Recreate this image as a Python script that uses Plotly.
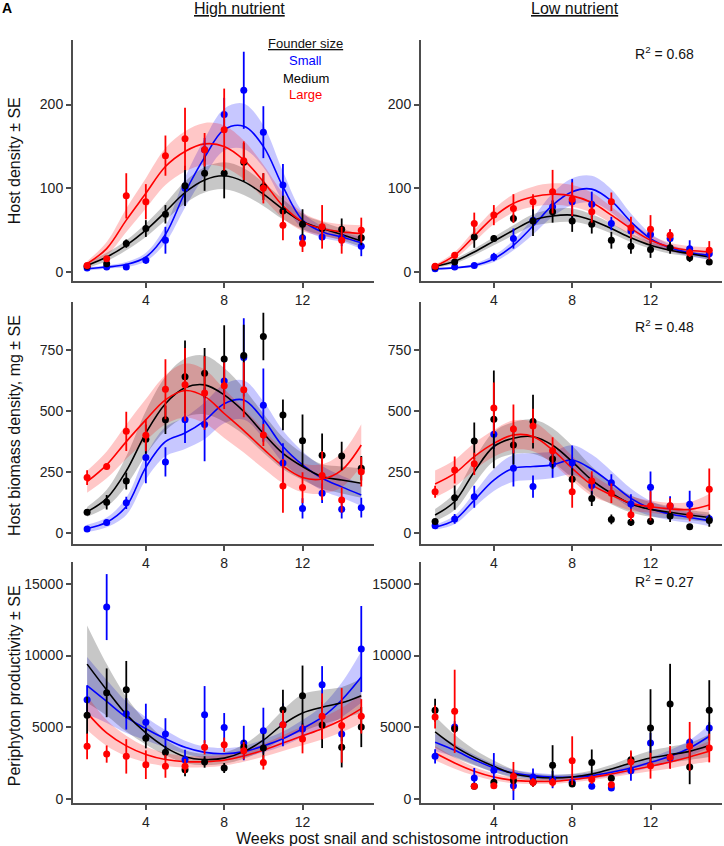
import plotly.graph_objects as go

weeks = list(range(1, 16))
sizes = ["Small", "Medium", "Large"]
colors = ["#0000ff", "#000000", "#ff0000"]
band_colors = ["rgba(0,0,255,0.22)", "rgba(0,0,0,0.22)", "rgba(255,0,0,0.22)"]

# ---- Host density, high nutrient (order: Small, Medium, Large)
hd_hi_pts = [[5, 6, 6, 14, 38, 100, 146, 188, 217, 167, 104, 41, 42, 41, 31],
             [7, 10, 34, 52, 69, 103, 118, 118, 131, 102, 73, 57, 52, 51, 41],
             [8, 16, 91, 84, 139, 159, 146, 170, 133, 100, 56, 34, 54, 38, 50]]
hd_hi_err = [[1, 2, 1, 4, 16, 20, 14, 20, 46, 31, 25, 4, 5, 10, 12],
             [2, 3, 5, 10, 11, 24, 21, 30, 23, 16, 18, 18, 6, 13, 9],
             [2, 3, 27, 21, 24, 37, 20, 49, 23, 18, 18, 10, 26, 16, 15]]
hd_hi_fit = [[4, 6, 9, 18, 45, 95, 137, 170, 174, 150, 102, 62, 48, 42, 35],
             [8, 18, 32, 50, 72, 95, 110, 115, 108, 93, 75, 60, 52, 45, 37],
             [10, 28, 62, 94, 126, 144, 153, 150, 134, 108, 79, 60, 52, 48, 46]]
hd_hi_band = [[2, 2, 3, 5, 10, 18, 22, 25, 27, 25, 18, 10, 7, 6, 7],
              [3, 5, 6, 8, 10, 13, 15, 16, 16, 14, 12, 9, 8, 7, 7],
              [3, 8, 14, 18, 22, 24, 25, 25, 23, 20, 15, 11, 9, 9, 10]]

# ---- Host density, low nutrient
hd_lo_pts = [[4, 6, 8, 18, 40, 62, 78, 84, 81, 58, 49, 45, 40, 28, 22],
             [6, 12, 42, 40, 64, 61, 72, 61, 57, 38, 31, 27, 29, 17, 12],
             [7, 20, 58, 68, 76, 84, 96, 87, 72, 84, 53, 51, 44, 23, 26]]
hd_lo_err = [[1, 1, 2, 5, 12, 12, 8, 27, 15, 8, 8, 8, 11, 10, 8],
             [2, 3, 13, 4, 5, 18, 13, 13, 11, 10, 9, 10, 7, 5, 3],
             [2, 4, 13, 12, 17, 9, 26, 20, 13, 11, 13, 17, 7, 5, 11]]
hd_lo_fit = [[4, 5, 8, 16, 32, 55, 80, 96, 99, 85, 60, 40, 29, 23, 20],
             [7, 13, 24, 37, 50, 62, 67, 68, 62, 52, 41, 32, 26, 22, 18],
             [7, 20, 43, 66, 82, 90, 93, 91, 83, 68, 52, 38, 30, 26, 24]]
hd_lo_band = [[1, 1, 2, 4, 6, 10, 14, 16, 16, 14, 10, 6, 4, 4, 5],
              [2, 3, 4, 5, 6, 7, 8, 8, 7, 6, 5, 4, 4, 3, 3],
              [2, 4, 7, 9, 11, 12, 13, 13, 12, 10, 8, 6, 5, 5, 6]]

# ---- Host biomass density, high nutrient
bm_hi_pts = [[18, 44, 125, 310, 292, 464, 445, 623, 719, 524, 288, 102, 164, 98, 105],
             [86, 127, 214, 385, 464, 640, 655, 713, 727, 805, 484, 379, 319, 316, 266],
             [228, 273, 417, 401, 589, 608, 574, 603, 587, 402, 194, 187, 236, 136, 252]]
bm_hi_err = [[8, 12, 25, 105, 60, 95, 150, 80, 160, 150, 80, 41, 40, 37, 40],
             [12, 30, 35, 60, 58, 148, 103, 138, 126, 97, 63, 107, 89, 58, 50],
             [30, 12, 80, 65, 123, 150, 150, 95, 112, 45, 110, 63, 100, 51, 60]]
bm_hi_fit = [[20, 45, 110, 270, 375, 410, 460, 530, 545, 465, 355, 280, 225, 190, 157],
             [88, 143, 255, 410, 530, 595, 607, 566, 498, 409, 327, 273, 232, 218, 205],
             [211, 280, 375, 464, 546, 584, 560, 490, 420, 345, 275, 228, 222, 258, 361]]
bm_hi_band = [[15, 20, 35, 50, 60, 65, 75, 80, 80, 75, 65, 55, 50, 45, 45],
              [20, 35, 60, 90, 110, 120, 120, 110, 95, 80, 65, 55, 50, 55, 60],
              [45, 55, 70, 85, 100, 110, 110, 100, 90, 80, 70, 60, 60, 70, 85]]

# ---- Host biomass density, low nutrient
bm_lo_pts = [[31, 59, 150, 405, 266, 191, 282, 289, 196, 207, 120, 188, 112, 119, 60],
             [48, 146, 378, 466, 361, 457, 304, 221, 142, 57, 45, 49, 71, 27, 52],
             [170, 259, 284, 512, 427, 439, 338, 170, 214, 164, 76, 112, 113, 74, 180]]
bm_lo_err = [[8, 20, 45, 60, 75, 45, 55, 70, 40, 35, 40, 65, 40, 55, 15],
             [10, 50, 75, 200, 80, 110, 40, 45, 30, 20, 15, 15, 25, 8, 25],
             [25, 55, 45, 105, 100, 70, 55, 65, 40, 40, 25, 60, 30, 25, 85]]
bm_lo_fit = [[25, 55, 136, 218, 266, 273, 280, 300, 262, 205, 143, 102, 79, 65, 52],
             [75, 130, 252, 355, 389, 395, 360, 293, 218, 164, 120, 98, 86, 75, 65],
             [202, 245, 314, 368, 402, 396, 341, 266, 198, 157, 123, 109, 100, 98, 116]]
bm_lo_band = [[10, 18, 30, 45, 55, 55, 55, 60, 60, 50, 40, 30, 25, 22, 22],
              [25, 35, 50, 60, 65, 70, 70, 65, 55, 45, 35, 30, 25, 20, 20],
              [55, 55, 55, 55, 60, 60, 55, 50, 45, 35, 30, 25, 25, 30, 45]]

# ---- Periphyton productivity, high nutrient
pp_hi_pts = [[6920, 13375, 5940, 5340, 4530, 2740, 5870, 4990, 3900, 4760, 5180, 4880, 7960, 4530, 10450],
             [5830, 7400, 7620, 4230, 3250, 2040, 2580, 2160, 3620, 3550, 6220, 7200, 5150, 3600, 5015],
             [3670, 3130, 2970, 2390, 2280, 2280, 3600, 3780, 3370, 2550, 5180, 4180, 5760, 5130, 5760]]
pp_hi_err = [[1000, 2300, 1100, 1300, 1100, 700, 2000, 1000, 1200, 1600, 1500, 400, 1300, 500, 3000],
             [1300, 1700, 2000, 700, 450, 450, 400, 350, 500, 1000, 1400, 2100, 1600, 1400, 1400],
             [900, 600, 1200, 1000, 800, 500, 500, 500, 600, 500, 1000, 1000, 1600, 2600, 1200]]
pp_hi_fit = [[7900, 6800, 5700, 4900, 4200, 3600, 3250, 3150, 3300, 3700, 4200, 4900, 5700, 6900, 8500],
             [9400, 7600, 5900, 4600, 3600, 2950, 2750, 2850, 3300, 4100, 5200, 6000, 6400, 6700, 7200],
             [6000, 4600, 3700, 3100, 2750, 2600, 2600, 2700, 3000, 3400, 3900, 4400, 4900, 5500, 6300]]
pp_hi_band = [[2000, 1500, 1100, 800, 600, 450, 400, 400, 400, 450, 500, 600, 800, 1200, 1800],
              [2700, 1800, 1200, 800, 550, 450, 400, 400, 500, 700, 1000, 1300, 1200, 1100, 1200],
              [1200, 900, 700, 550, 450, 400, 380, 380, 400, 450, 550, 650, 750, 850, 1000]]

# ---- Periphyton productivity, low nutrient
pp_lo_pts = [[2970, 5020, 1460, 2000, 930, 1530, 1350, 1160, 880, 770, 1970, 3900, 2860, 3950, 4950],
             [6180, 4900, 880, 1160, 1280, 1160, 2350, 1040, 2550, 1440, 2740, 4950, 6620, 2230, 6180],
             [5710, 6110, 880, 930, 1580, 1160, 1160, 2670, 1350, 1000, 2580, 2320, 2900, 3670, 3550]]
pp_lo_err = [[500, 400, 700, 1200, 1000, 600, 600, 300, 200, 200, 700, 700, 700, 300, 400],
             [800, 300, 150, 150, 200, 300, 1400, 150, 900, 200, 500, 2700, 2800, 1200, 2100],
             [800, 2900, 150, 200, 1000, 300, 300, 1700, 300, 200, 800, 900, 800, 1700, 1000]]
pp_lo_fit = [[3950, 3390, 2740, 2160, 1810, 1630, 1530, 1530, 1630, 1860, 2160, 2550, 2970, 3550, 4370],
             [4670, 3670, 2900, 2280, 1760, 1530, 1460, 1530, 1740, 2090, 2510, 2860, 3090, 3320, 3720],
             [3200, 2510, 1930, 1530, 1300, 1230, 1230, 1350, 1510, 1740, 2000, 2280, 2580, 2930, 3320]]
pp_lo_band = [[600, 450, 350, 300, 250, 220, 200, 200, 220, 250, 300, 350, 450, 550, 800],
              [1100, 800, 550, 400, 300, 250, 220, 220, 250, 300, 400, 500, 550, 600, 800],
              [500, 400, 300, 250, 200, 180, 180, 180, 200, 230, 280, 350, 450, 550, 700]]

panel_titles = ["High nutrient", "Low nutrient"]
y_titles = ["Host density ± SE", "Host biomass density, mg ± SE", "Periphyton productivity ± SE"]
r2_labels = ["R<sup>2</sup> = 0.68", "R<sup>2</sup> = 0.48", "R<sup>2</sup> = 0.27"]
x_title = "Weeks post snail and schistosome introduction"
x_ticks = [4, 8, 12]
y_ticks = [[0, 100, 200], [0, 250, 500, 750], [0, 5000, 10000, 15000]]
y_ranges = [[-10.75, 277], [-45, 947], [-280, 16525]]
x_range = [0.28, 15.65]

panels = [
    (hd_hi_pts, hd_hi_err, hd_hi_fit, hd_hi_band),
    (hd_lo_pts, hd_lo_err, hd_lo_fit, hd_lo_band),
    (bm_hi_pts, bm_hi_err, bm_hi_fit, bm_hi_band),
    (bm_lo_pts, bm_lo_err, bm_lo_fit, bm_lo_band),
    (pp_hi_pts, pp_hi_err, pp_hi_fit, pp_hi_band),
    (pp_lo_pts, pp_lo_err, pp_lo_fit, pp_lo_band),
]

FONT = "Liberation Sans, Arial, sans-serif"
fig = go.Figure()

for p, (pts, err, fit, band) in enumerate(panels):
    sfx = "" if p == 0 else str(p + 1)
    xa, ya = "x" + sfx, "y" + sfx
    for s in range(3):
        lo = [f - b for f, b in zip(fit[s], band[s])]
        hi = [f + b for f, b in zip(fit[s], band[s])]
        fig.add_trace(go.Scatter(x=weeks, y=lo, mode="lines", line=dict(width=0, shape="spline"),
                                 xaxis=xa, yaxis=ya, showlegend=False, hoverinfo="skip"))
        fig.add_trace(go.Scatter(x=weeks, y=hi, mode="lines", line=dict(width=0, shape="spline"),
                                 fill="tonexty", fillcolor=band_colors[s],
                                 xaxis=xa, yaxis=ya, showlegend=False, hoverinfo="skip"))
    for s in range(3):
        fig.add_trace(go.Scatter(x=weeks, y=fit[s], mode="lines",
                                 line=dict(color=colors[s], width=1.6, shape="spline"),
                                 xaxis=xa, yaxis=ya, showlegend=False))
    for s in range(3):
        fig.add_trace(go.Scatter(x=weeks, y=pts[s], mode="markers", name=sizes[s],
                                 marker=dict(color=colors[s], size=7),
                                 error_y=dict(type="data", array=err[s], thickness=1.8, width=0,
                                              color=colors[s]),
                                 xaxis=xa, yaxis=ya, showlegend=False, cliponaxis=True))

x_domains = [[0, 0.4638], [0.5362, 1.0]]
y_domains = [[0.684, 1.0], [0.339, 0.657], [0.0, 0.316]]

axis_common = dict(showline=True, linecolor="#4d4d4d", linewidth=2, ticks="outside",
                   ticklen=5, tickwidth=1.5, tickcolor="#4d4d4d", showgrid=False,
                   zeroline=False, tickformat="d",
                   tickfont=dict(size=14, color="#222", family=FONT))
layout_axes = {}
for p in range(6):
    row, col = p // 2, p % 2
    sfx = "" if p == 0 else str(p + 1)
    layout_axes["xaxis" + sfx] = dict(axis_common, domain=x_domains[col], range=x_range,
                                      tickvals=x_ticks, anchor="y" + sfx)
    layout_axes["yaxis" + sfx] = dict(axis_common, domain=y_domains[row], range=y_ranges[row],
                                      tickvals=y_ticks[row], anchor="x" + sfx)

annotations = []
for col, t in enumerate(panel_titles):
    annotations.append(dict(text="<u>" + t + "</u>", x=[0.2558, 0.7735][col], y=1.0419,
                            xref="paper", yref="paper", showarrow=False,
                            xanchor="center", yanchor="middle",
                            font=dict(size=16, color="#111", family=FONT)))
for row, t in enumerate(y_titles):
    annotations.append(dict(text=t, x=-0.0909, y=[0.841, 0.494, 0.153][row],
                            xref="paper", yref="paper", showarrow=False, textangle=-90,
                            xanchor="center", yanchor="middle",
                            font=dict(size=16, color="#111", family=FONT)))
for row, t in enumerate(r2_labels):
    annotations.append(dict(text=t, x=0.912, y=[0.983, 0.6256, 0.2913][row],
                            xref="paper", yref="paper", showarrow=False,
                            xanchor="center", yanchor="middle",
                            font=dict(size=14, color="#111", family=FONT)))
annotations.append(dict(text=x_title, x=0.507, y=-0.047, xref="paper", yref="paper",
                        showarrow=False, xanchor="center", yanchor="middle",
                        font=dict(size=16, color="#111", family=FONT)))
annotations.append(dict(text="<u>Founder size</u>", x=0.359, y=0.996, xref="paper", yref="paper",
                        showarrow=False, xanchor="center", yanchor="middle",
                        font=dict(size=13, color="#111", family=FONT)))
for s in range(3):
    annotations.append(dict(text=sizes[s], x=0.359, y=[0.9725, 0.950, 0.928][s],
                            xref="paper", yref="paper", showarrow=False,
                            xanchor="center", yanchor="middle",
                            font=dict(size=13, color=colors[s], family=FONT)))
annotations.append(dict(text="<b>A</b>", x=-0.1017, y=1.0419, xref="paper", yref="paper",
                        showarrow=False, xanchor="center", yanchor="middle",
                        font=dict(size=14, color="#000", family=FONT)))

fig.update_layout(width=724, height=846, margin=dict(l=73, r=2, t=40, b=43),
                  paper_bgcolor="white", plot_bgcolor="white", showlegend=False,
                  annotations=annotations, **layout_axes)

fig.write_html("out.html", config={"displayModeBar": False},
               post_script="document.body.style.margin='0';document.body.style.padding='0';"
                           "document.body.style.overflow='hidden';")
